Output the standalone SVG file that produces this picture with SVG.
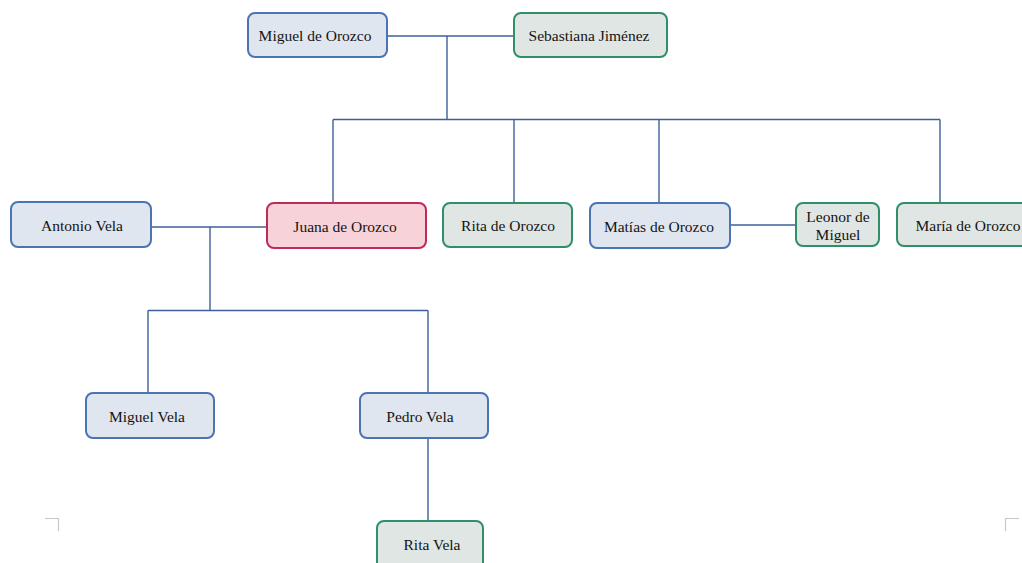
<svg xmlns="http://www.w3.org/2000/svg" width="1022" height="563" viewBox="0 0 1022 563">
  <style>
    .node rect { stroke-width: 2; }
    .m rect { fill: #dfe6f0; stroke: #4a74b2; }
    .f rect { fill: #e0e6e3; stroke: #2f8f66; }
    .h rect { fill: #f7d3d9; stroke: #bf2a5c; }
    .node text { font-family: "Liberation Serif", "Times New Roman", serif; font-size: 15.5px; fill: #141414; text-anchor: middle; dominant-baseline: central; }
    .links path { fill: none; stroke: #3f5f9c; stroke-width: 1.4; }
    .marks path { fill: none; stroke: #c8c8c8; stroke-width: 1.2; }
  </style>
  <rect width="1022" height="563" fill="#ffffff"/>

  <!-- page corner marks -->
  <g class="marks">
    <path d="M45 518.5 H58.5 V531"/>
    <path d="M1005.5 531 V518.5 H1019"/>
  </g>

  <!-- connectors -->
  <g class="links">
    <path d="M387 36 H514"/>
    <path d="M447 36 V119.5"/>
    <path d="M333 119.5 H940"/>
    <path d="M333 119.5 V203"/>
    <path d="M514 119.5 V203"/>
    <path d="M659 119.5 V203"/>
    <path d="M940 119.5 V203"/>
    <path d="M730 225 H796"/>
    <path d="M151 227 H267"/>
    <path d="M210 227 V310.5"/>
    <path d="M148 310.5 H428"/>
    <path d="M148 310.5 V393"/>
    <path d="M428 310.5 V393"/>
    <path d="M428 438 V521"/>
  </g>

  <!-- people -->
  <g id="miguel-de-orozco" class="node m">
    <rect x="248" y="13" width="139" height="44" rx="7"/>
    <text x="315" y="35">Miguel de Orozco</text>
  </g>
  <g id="sebastiana-jimenez" class="node f">
    <rect x="514" y="13" width="153" height="44" rx="7"/>
    <text x="589" y="35">Sebastiana Jiménez</text>
  </g>
  <g id="antonio-vela" class="node m">
    <rect x="11" y="202" width="140" height="45" rx="7"/>
    <text x="82" y="225">Antonio Vela</text>
  </g>
  <g id="juana-de-orozco" class="node h">
    <rect x="267" y="203" width="159" height="45" rx="7"/>
    <text x="345" y="226">Juana de Orozco</text>
  </g>
  <g id="rita-de-orozco" class="node f">
    <rect x="443" y="203" width="129" height="44" rx="7"/>
    <text x="508" y="225">Rita de Orozco</text>
  </g>
  <g id="matias-de-orozco" class="node m">
    <rect x="590" y="203" width="140" height="45" rx="7"/>
    <text x="659" y="226">Matías de Orozco</text>
  </g>
  <g id="leonor-de-miguel" class="node f">
    <rect x="796" y="203" width="83" height="43" rx="7"/>
    <text x="838" y="216">Leonor de</text>
    <text x="838" y="234">Miguel</text>
  </g>
  <g id="maria-de-orozco" class="node f">
    <rect x="897" y="203" width="132" height="43" rx="7"/>
    <text x="968" y="225">María de Orozco</text>
  </g>
  <g id="miguel-vela" class="node m">
    <rect x="86" y="393" width="128" height="45" rx="7"/>
    <text x="147" y="416">Miguel Vela</text>
  </g>
  <g id="pedro-vela" class="node m">
    <rect x="360" y="393" width="128" height="45" rx="7"/>
    <text x="420" y="416">Pedro Vela</text>
  </g>
  <g id="rita-vela" class="node f">
    <rect x="377" y="521" width="106" height="50" rx="7"/>
    <text x="432" y="544">Rita Vela</text>
  </g>
</svg>
